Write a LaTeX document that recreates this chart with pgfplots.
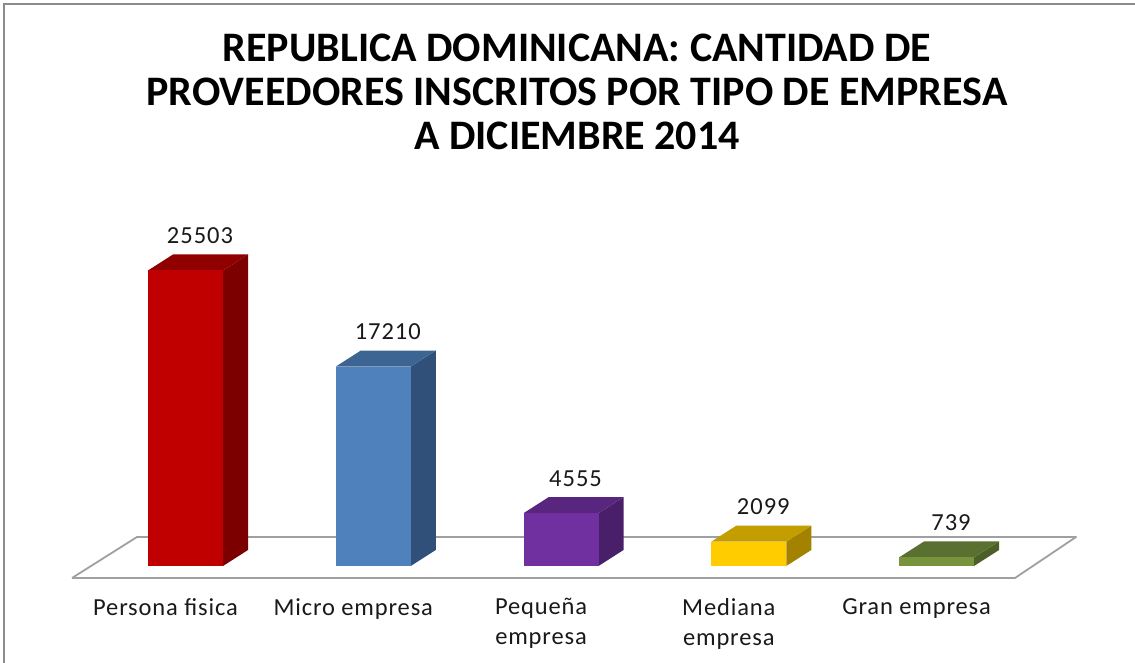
\documentclass[border=0pt]{standalone}
\usepackage{fontspec}
\setmainfont{Carlito}
\usepackage{pgfplots}
\usepackage{pgfplotstable}
\pgfplotsset{compat=1.18}

% front / side / top colours of the five bars
\definecolor{front0}{HTML}{C00000}\definecolor{side0}{HTML}{7D0000}\definecolor{top0}{HTML}{900000}
\definecolor{front1}{HTML}{4F81BD}\definecolor{side1}{HTML}{30507A}\definecolor{top1}{HTML}{3D6594}
\definecolor{front2}{HTML}{7030A0}\definecolor{side2}{HTML}{481F68}\definecolor{top2}{HTML}{58267E}
\definecolor{front3}{HTML}{FFCC00}\definecolor{side3}{HTML}{A38200}\definecolor{top3}{HTML}{C49D00}
\definecolor{front4}{HTML}{77933C}\definecolor{side4}{HTML}{4C5F27}\definecolor{top4}{HTML}{5A7031}
\definecolor{floorgray}{HTML}{A0A0A0}
\definecolor{framegray}{HTML}{8C8C8C}

\pgfplotstableread{
x y
0 25503
1 17210
2 4555
3 2099
4 739
}\datatable

\begin{document}
\begin{tikzpicture}
\useasboundingbox (0pt,0pt) rectangle (1135pt,663pt);
\draw[color=framegray, line width=2pt] (4pt,0pt) -- (4pt,659pt) -- (1135pt,659pt);
\node[align=center, font=\bfseries\fontsize{42}{44}\selectfont] at (577pt,571pt)
  {REPUBLICA DOMINICANA: CANTIDAD DE\\PROVEEDORES INSCRITOS POR TIPO DE EMPRESA\\A DICIEMBRE 2014};
\begin{axis}[
    at={(72pt,85pt)}, anchor=south west,
    scale only axis, width=1004pt, height=378pt,
    xmin=-0.6045, xmax=4.743, ymin=-1036, ymax=31586,
    axis line style={draw=none},
    ytick=\empty,
    xtick={0,1,2,3,4},
    major tick length=0pt,
    xticklabels={Persona fisica, Micro empresa, {Pequeña\\empresa}, {Mediana\\empresa}, Gran empresa},
    xticklabel style={font=\fontsize{24.5}{30}\selectfont\addfontfeatures{LetterSpace=3.5},
      align=center, text=black!90, xshift=-20pt, yshift=-17pt},
    clip=false,
    /pgf/number format/assume math mode=true,
]
% floor
\addplot[draw=floorgray, line width=1.8pt, line join=round, fill=white]
  coordinates {(-0.6045,-1036) (4.418,-1036) (4.743,2503) (-0.2583,2503) (-0.6045,-1036)};
\pgfplotsinvokeforeach{0,...,4}{
  \pgfplotstablegetelem{#1}{y}\of\datatable
  \edef\v{\pgfplotsretval}
  \edef\vt{\fpeval{\v+1381}}
  \edef\xl{\fpeval{#1-0.19975}}
  \edef\xr{\fpeval{#1+0.19975}}
  \edef\xlb{\fpeval{#1-0.19975+0.1332}}
  \edef\xrb{\fpeval{#1+0.19975+0.1332}}
  \pgfmathsetmacro\lx{{21,21.5,16.5,15.5,14.5}[#1]}
  \addplot[fill=side#1, draw=none] coordinates {(\xr,0) (\xrb,1381) (\xrb,\vt) (\xr,\v) (\xr,0)};
  \addplot[fill=top#1, draw=none] coordinates {(\xl,\v) (\xr,\v) (\xrb,\vt) (\xlb,\vt) (\xl,\v)};
  \addplot[ybar, bar width=0.3995, bar shift=0pt, fill=front#1, draw=none,
    nodes near coords={\pgfmathprintnumber[1000 sep={}]{\pgfplotspointmeta}},
    every node near coord/.append style={xshift=\lx pt, yshift=23pt, text=black!90,
      font=\fontsize{24.5}{30}\selectfont\addfontfeatures{LetterSpace=4}}]
    coordinates {(#1,\v)};
}
\end{axis}
\end{tikzpicture}
\end{document}
